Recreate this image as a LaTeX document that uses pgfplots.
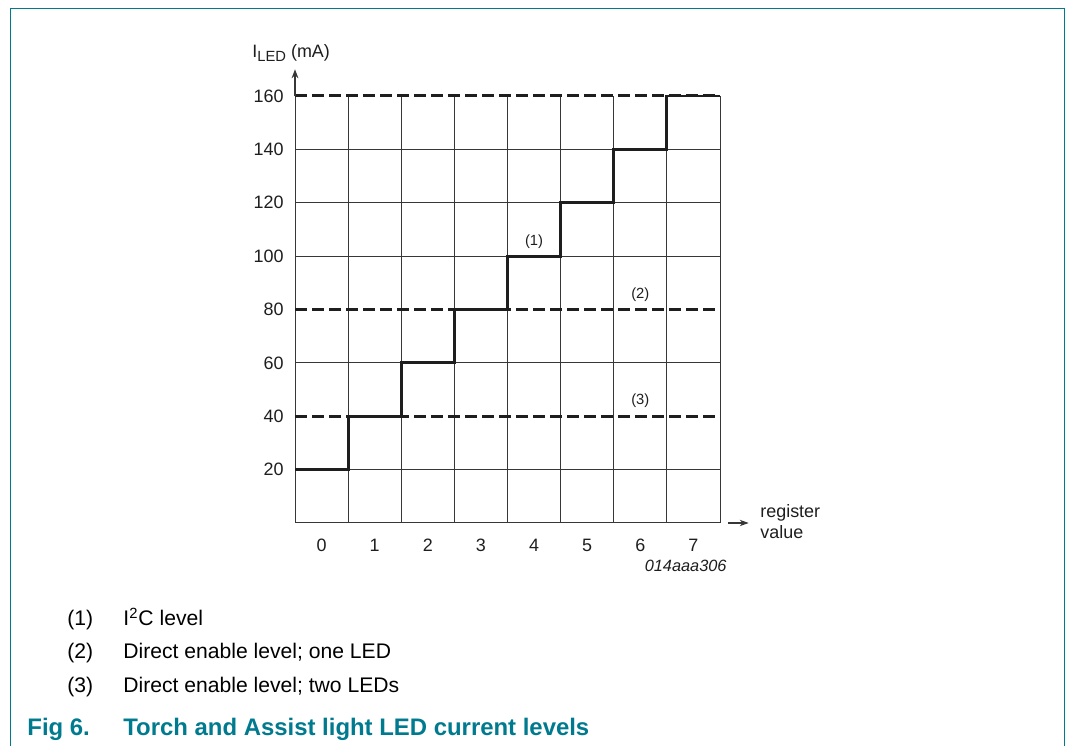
\documentclass[border=0pt]{standalone}
\usepackage{pgfplots}
\pgfplotsset{compat=1.18}
\usetikzlibrary{arrows.meta}
\usepackage{fontspec}
\setmainfont{Liberation Sans}
\definecolor{nxpteal}{RGB}{0,122,142}
\definecolor{gridgray}{RGB}{55,55,55}
\definecolor{ink}{RGB}{30,30,30}

\begin{document}
\begin{tikzpicture}
\path[use as bounding box] (0,0) rectangle (533bp,373bp);
% frame, its bottom edge lies below the page
\draw[nxpteal, line width=0.7bp] (5.3bp,-2bp) -- (5.3bp,368.8bp) -- (532.2bp,368.8bp) -- (532.2bp,-2bp);

\begin{axis}[
  at={(147.5bp,111.5bp)}, anchor=south west,
  scale only axis, width=212.5bp, height=213.5bp,
  xmin=-0.5, xmax=7.5, ymin=0, ymax=160,
  axis lines=left, axis line style={-, gridgray, line width=0.5bp},
  xtick={0,...,7}, ytick={20,40,...,160},
  minor xtick={-0.5,0.5,...,7.5},
  xminorgrids=true,
  extra y ticks={20,60,100,120,140}, extra y tick labels={},
  extra y tick style={grid=major},
  grid style={gridgray, line width=0.5bp},
  minor grid style={gridgray, line width=0.5bp},
  major tick length=0pt, minor tick length=0pt,
  tick label style={font=\fontsize{9}{11}\selectfont, text=ink},
  /pgf/number format/assume math mode=true,
  xticklabel style={yshift=-4.7bp},
  yticklabel style={xshift=-2.2bp},
  clip=false,
]
% direct enable levels and top level
\addplot[ink, line width=1.5bp, dash pattern=on 6.2bp off 2.3bp] coordinates {(-0.5,160) (7.5,160)};
\addplot[ink, line width=1.5bp, dash pattern=on 6.2bp off 2.3bp] coordinates {(-0.5,80) (7.5,80)};
\addplot[ink, line width=1.5bp, dash pattern=on 6.2bp off 2.3bp] coordinates {(-0.5,40) (7.5,40)};
% I2C level
\addplot[ink, line width=1.4bp, const plot] coordinates {
  (-0.5,20) (0.5,40) (1.5,60) (2.5,80) (3.5,100) (4.5,120) (5.5,140) (6.5,160) (7.5,160)
};
\node[font=\fontsize{7.4}{9}\selectfont, text=ink] at (axis cs:4,105.5) {(1)};
\node[font=\fontsize{7.4}{9}\selectfont, text=ink] at (axis cs:6,85.5) {(2)};
\node[font=\fontsize{7.4}{9}\selectfont, text=ink] at (axis cs:6,46) {(3)};
% axis arrows
\draw[gridgray, line width=0.6bp, -{Stealth[length=4.5bp,width=3.4bp]}] (axis cs:-0.5,160) -- (axis cs:-0.5,170);
\draw[gridgray, line width=0.6bp, -{Stealth[length=4.5bp,width=3.2bp]}] (axis cs:7.65,0) -- (axis cs:8.04,0);
\end{axis}

\begin{scope}[x=0.5bp, y=-0.5bp, yshift=373bp]
\node[anchor=base west, inner sep=0, text=ink, font=\fontsize{9}{11}\selectfont] at (252,58)
  {I{\fontsize{7.4}{8}\selectfont\raisebox{-1.6bp}{LED}} (mA)};
\node[anchor=west, inner sep=0, align=left, text=ink, font=\fontsize{9}{10.6}\selectfont] at (760,521.5)
  {register\\value};
\node[anchor=east, inner sep=0, text=ink, font=\fontsize{8.2}{10}\selectfont\itshape] at (727,566) {014aaa306};
% notes
\foreach \n/\t/\y in {1/{I\textsuperscript{2}C level}/619, 2/{Direct enable level; one LED}/652, 3/{Direct enable level; two LEDs}/686} {
  \node[anchor=base west, inner sep=0, font=\fontsize{10.6}{12}\selectfont] at (67,\y+7) {(\n)};
  \node[anchor=base west, inner sep=0, font=\fontsize{10.6}{12}\selectfont] at (123,\y+7) {\t};
}
\node[anchor=base west, inner sep=0, text=nxpteal, font=\fontsize{12}{14}\selectfont\bfseries] at (27,736) {Fig 6.};
\node[anchor=base west, inner sep=0, text=nxpteal, font=\fontsize{12}{14}\selectfont\bfseries] at (123,736) {Torch and Assist light LED current levels};
\end{scope}
\end{tikzpicture}
\end{document}
